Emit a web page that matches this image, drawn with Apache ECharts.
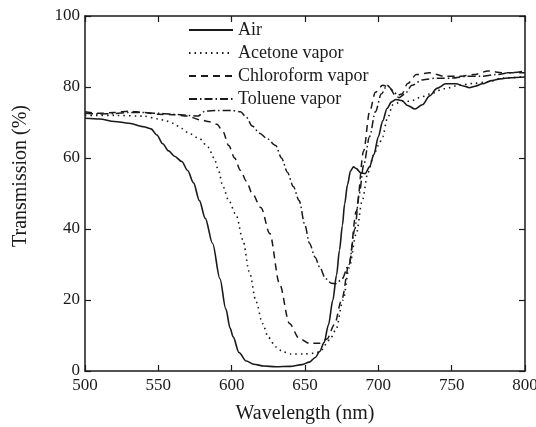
<!DOCTYPE html>
<html>
<head>
<meta charset="utf-8">
<script src="https://cdn.jsdelivr.net/npm/echarts@6/dist/echarts.min.js"></script>
<style>
    html, body { margin: 0; padding: 0; background: #fff; }
    #chart { width: 536px; height: 427px; }
</style>
</head>
<body>
<div id="chart"></div>
<script>
    'use strict'

    /*-----data-----*/
    var airX = [500, 510, 520, 530, 540, 545, 549, 553, 557, 561, 566, 570, 574, 578, 582, 587, 592, 596, 599, 601, 605, 610, 615, 622, 630, 640, 648, 653, 657, 660, 663, 666, 669, 671.5, 673.5, 675.5, 677, 679, 681, 683, 685, 688, 691, 694, 697, 700, 703, 706, 709, 712, 716, 720, 725, 730, 735, 740, 746, 753, 758, 762, 766, 771, 777, 783, 790, 800];
    var airY = [71.2, 71, 70.3, 69.8, 68.8, 68.2, 66.5, 64, 62, 60.5, 59, 56.5, 53, 48, 43, 35.9, 26, 17.5, 12, 9.6, 5.2, 2.8, 1.9, 1.4, 1.2, 1.3, 1.8, 2.5, 3.8, 5.5, 8, 13, 20, 27, 34, 41, 47, 52.5, 56.3, 57.5, 57, 55.8, 55.6, 57.5, 61, 66, 70.5, 74, 75.8, 76.5, 76.2, 74.8, 73.8, 75, 77.5, 79.6, 80.9, 80.9, 80.3, 79.8, 80.2, 80.9, 81.8, 82.3, 82.6, 82.8];

    var acetoneX = [500, 520, 540, 550, 555, 560, 566, 571, 578, 584, 588, 591, 594, 598, 603, 607.6, 612, 616.7, 621, 625, 630, 635, 640, 650, 656, 660, 666.7, 671, 676, 680, 685, 689, 693, 697, 700, 703, 706, 710, 716, 722, 728, 735, 745, 755, 765, 775, 785, 800];
    var acetoneY = [72, 72, 71.8, 71, 70.5, 69.8, 68.3, 66.9, 65.5, 63, 60, 56.5, 52, 48, 44, 37, 28, 19.5, 13.4, 9.5, 6.8, 5.4, 4.8, 4.8, 5, 5.4, 8.7, 11.5, 20, 29, 38.7, 48, 56, 61, 63.5, 66, 71, 75, 76, 76, 77, 78, 79.5, 80.5, 81, 81.5, 82.5, 83];

    var chloroX = [500, 510, 520, 530, 540, 550, 560, 570, 578, 585, 590, 594, 598, 602, 606, 610, 614, 620, 626, 632.6, 639.4, 646, 653, 660, 665, 670, 675, 680, 685, 690, 694, 698, 703, 707, 712, 716, 720, 726, 735, 745, 755, 765, 775, 785, 800];
    var chloroY = [73, 72.6, 72.8, 73.2, 72.8, 72.3, 72.2, 71.8, 70.8, 70.2, 69.5, 67.5, 63.5, 60, 56.5, 53.5, 50, 46, 38.7, 24.6, 13.4, 9.2, 7.8, 7.8, 9, 13, 20, 30, 45, 62, 73, 78.5, 80.5, 80, 77.5, 78, 81, 83.5, 84, 83, 83, 83.5, 84.5, 84, 84];

    var tolueneX = [500, 510, 520, 530, 540, 550, 560, 570, 577, 582, 590, 600, 606, 610, 614, 619, 624, 630, 634, 638, 642, 646, 650, 653, 657, 660, 664, 668, 671, 675, 680, 684, 687, 690, 694, 698, 702, 706, 710, 714, 718, 723, 730, 740, 750, 760, 770, 780, 790, 800];
    var tolueneY = [72.6, 72.4, 72.5, 72.8, 72.8, 72.6, 72.3, 72, 71.8, 73.2, 73.4, 73.4, 73, 71.5, 69, 67, 65.5, 63.5, 60, 56, 52, 48, 41, 36, 32, 29.3, 26, 24.7, 24.6, 25.8, 30, 40, 50, 58, 66, 73, 78, 80.5, 79, 77, 78, 80.5, 82, 82.5, 82.5, 83, 83, 83.5, 84, 84.5];

    var seriesNames = ['Air', 'Acetone vapor', 'Chloroform vapor', 'Toluene vapor'];
    var xTicks = { min: 500, max: 800, interval: 50 };
    var yTicks = { min: 0, max: 100, interval: 20 };

    function zip(xs, ys) {
        return xs.map(function (x, i) { return [x, ys[i]]; });
    }

    var font = 'Liberation Serif';
    var ink = '#1a1a1a';

    function makeSeries(name, xs, ys, dash, width) {
        return {
            name: name,
            type: 'line',
            data: zip(xs, ys),
            symbol: 'none',
            smooth: 0.3,
            smoothMonotone: 'x',
            lineStyle: { color: ink, width: width, type: dash },
            itemStyle: { color: ink }
        };
    }

    var axisLine = { show: true, onZero: false, lineStyle: { color: ink, width: 1.5 } };
    var axisTick = { show: true, inside: true, length: 6, lineStyle: { color: ink, width: 1.2 } };

    var chart = echarts.init(document.getElementById('chart'), null, { renderer: 'canvas' });
    var option = {
        animation: false,
        backgroundColor: '#fff',
        grid: {
            top: 16,
            right: 11,
            bottom: 56,
            left: 85,
            outerBoundsMode: 'none'
        },
        legend: {
            orient: 'vertical',
            left: 188,
            top: 21,
            padding: 0,
            itemWidth: 44,
            itemHeight: 12,
            itemGap: 5,
            itemStyle: { opacity: 0 },
            data: seriesNames,
            textStyle: { fontFamily: font, fontSize: 18, color: ink }
        },
        xAxis: [{
            type: 'value',
            position: 'bottom',
            min: xTicks.min, max: xTicks.max, interval: xTicks.interval,
            name: 'Wavelength (nm)',
            nameLocation: 'middle',
            nameGap: 33,
            nameTextStyle: { fontFamily: font, fontSize: 20, color: ink },
            axisLine: axisLine,
            axisTick: axisTick,
            splitLine: { show: false },
            axisLabel: { fontFamily: font, fontSize: 17, color: ink, margin: 6 }
        }, {
            type: 'value',
            position: 'top',
            min: xTicks.min, max: xTicks.max, interval: xTicks.interval,
            axisLine: axisLine,
            axisTick: axisTick,
            splitLine: { show: false },
            axisLabel: { show: false }
        }],
        yAxis: [{
            type: 'value',
            position: 'left',
            min: yTicks.min, max: yTicks.max, interval: yTicks.interval,
            name: 'Transmission (%)',
            nameLocation: 'middle',
            nameGap: 54,
            nameTextStyle: { fontFamily: font, fontSize: 20, color: ink, padding: [0, 0, 0, 35] },
            axisLine: axisLine,
            axisTick: axisTick,
            splitLine: { show: false },
            axisLabel: { fontFamily: font, fontSize: 17, color: ink, margin: 5 }
        }, {
            type: 'value',
            position: 'right',
            min: yTicks.min, max: yTicks.max, interval: yTicks.interval,
            axisLine: axisLine,
            axisTick: axisTick,
            splitLine: { show: false },
            axisLabel: { show: false }
        }],
        series: [
            makeSeries(seriesNames[0], airX, airY, 'solid', 1.6),
            makeSeries(seriesNames[1], acetoneX, acetoneY, [1.5, 4], 1.6),
            makeSeries(seriesNames[2], chloroX, chloroY, [7, 5], 1.5),
            makeSeries(seriesNames[3], tolueneX, tolueneY, [8, 3, 1.5, 3], 1.5)
        ]
    };
    chart.setOption(option);
    window.addEventListener('resize', function () {
        chart.resize();
    })
</script>
</body>
</html>
